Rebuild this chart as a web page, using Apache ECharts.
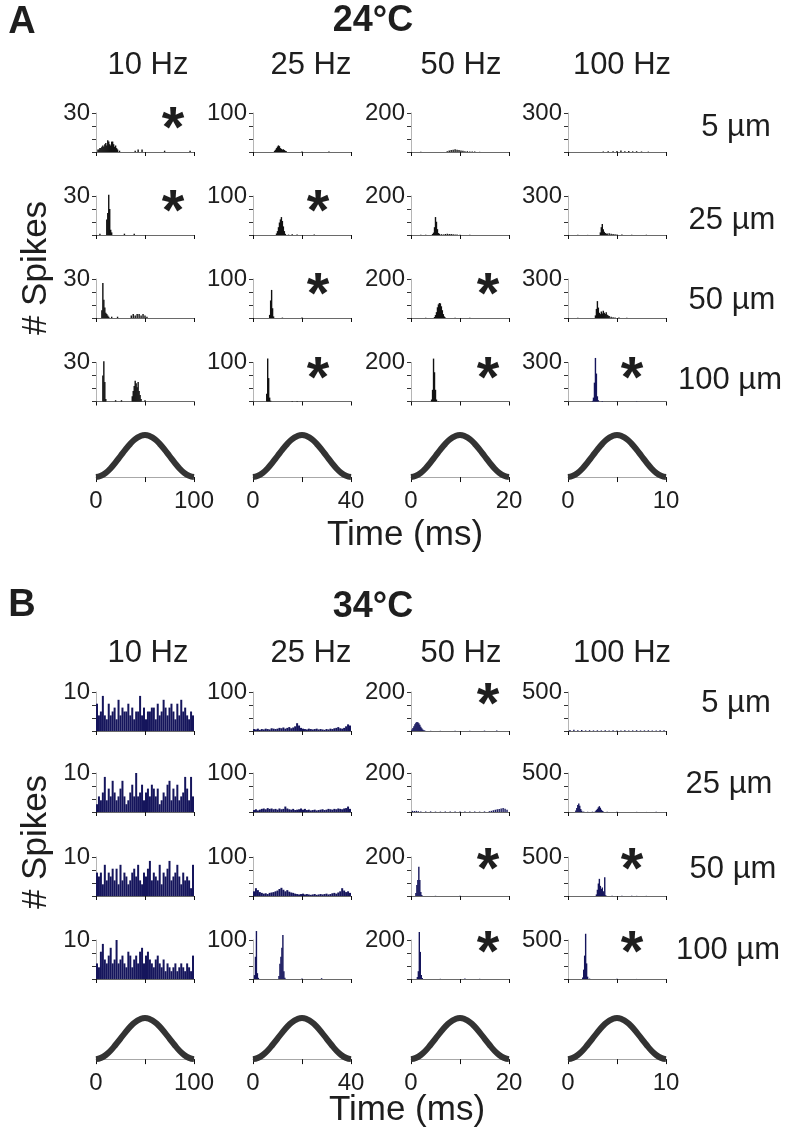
<!DOCTYPE html>
<html><head><meta charset="utf-8">
<script src="https://cdn.jsdelivr.net/npm/echarts@6/dist/echarts.min.js"></script>
<style>html,body{margin:0;padding:0;background:#fff}#c{width:789px;height:1141px}</style>
</head><body><div id="c"></div><script>
// ---------------- DATA ----------------
const freqLabels = ['10 Hz', '25 Hz', '50 Hz', '100 Hz'];
const ampLabels = ['5 µm', '25 µm', '50 µm', '100 µm'];
const periodsMs = [100, 40, 20, 10];
const timeTickLabels = ['100', '40', '20', '10'];
const yMaxA = [30, 100, 200, 300];
const yMaxB = [10, 100, 200, 500];

// stimulus waveform (one cycle), phase 0..1, normalized amplitude
const stimPhase = [0, 0.05, 0.1, 0.15, 0.2, 0.25, 0.3, 0.35, 0.4, 0.45, 0.5, 0.55, 0.6, 0.65, 0.7, 0.75, 0.8, 0.85, 0.9, 0.95, 1];
const stimValues = [0, 0.03, 0.1, 0.21, 0.35, 0.5, 0.65, 0.79, 0.9, 0.97, 1, 0.97, 0.9, 0.79, 0.65, 0.5, 0.35, 0.21, 0.1, 0.03, 0];

// Panel A (24°C) histograms: [time ms, # spikes]
const a10Hz5um = [[2,2],[3,2],[4,3],[5,3],[6,4],[7,5],[8,4],[9,6],[10,7],[11,5],[12,9],[13,8],[14,6],[15,5],[16,8],[17,8],[18,6],[19,4],[20,5],[21,3],[22,2],[24,1],[40,1],[43,2],[47,2],[70,1],[96,1]];
const a25Hz5um = [[8.8,3],[9.2,6],[9.6,10],[10,14],[10.4,17],[10.8,15],[11.2,10],[11.6,8],[12,6],[12.4,7],[12.8,5],[13.2,3],[13.6,2],[20,1],[31,1]];
const a50Hz5um = [[2,1],[7.4,4],[7.8,8],[8.2,10],[8.6,12],[9,14],[9.4,12],[9.8,10],[10.2,8],[10.6,6],[11,4],[11.5,4],[12,3],[12.5,2],[13,2],[14,1]];
const a100Hz5um = [[3.6,4],[4.1,6],[4.6,5],[5.0,8],[5.4,12],[5.8,6],[6.2,8],[6.6,5],[7.0,6],[7.5,4],[8.2,3]];

const a10Hz25um = [[4,1],[11,12],[12,17],[13,31],[14,20],[15,4],[16,2],[29,1],[39,1]];
const a25Hz25um = [[9.6,4],[10,10],[10.4,20],[10.8,32],[11.2,40],[11.6,46],[12,36],[12.4,22],[12.8,10],[13.2,3],[14.5,1],[16,2],[18,1],[25,1]];
const a50Hz25um = [[2,1],[3,1],[4.4,5],[4.6,12],[4.8,40],[5.0,92],[5.2,68],[5.4,30],[5.6,10],[5.8,6],[6.2,4],[6.6,3],[7,5],[7.4,6],[7.8,5],[8.2,5],[8.6,4],[9,3],[9.4,2],[10,1],[12,1]];
const a100Hz25um = [[1,2],[2,1],[3.3,20],[3.4,60],[3.5,85],[3.6,45],[3.7,25],[3.8,15],[3.9,10],[4.0,12],[4.2,14],[4.4,10],[4.6,8],[4.8,6],[5.0,4],[5.5,3],[6.5,2],[8,2]];

const a10Hz50um = [[6,6],[7,27],[8,14],[9,8],[10,4],[11,3],[12,2],[13,1],[16,1],[22,1],[36,2],[38,3],[40,2],[42,3],[44,3],[46,2],[48,3],[50,2],[52,1]];
const a25Hz50um = [[6.8,8],[7.2,45],[7.6,72],[8.0,25],[8.4,4],[12,1],[20,1]];
const a50Hz50um = [[3,1],[4.8,5],[5.0,15],[5.2,30],[5.4,55],[5.6,70],[5.8,77],[6.0,75],[6.2,60],[6.4,40],[6.6,20],[6.8,8],[7.0,3],[9,1],[12,1]];
const a100Hz50um = [[1,2],[2.8,20],[2.9,70],[3.0,130],[3.1,80],[3.2,40],[3.3,30],[3.4,50],[3.5,35],[3.6,55],[3.7,40],[3.8,30],[3.9,45],[4.0,25],[4.1,20],[4.2,15],[4.4,10],[4.6,6],[4.8,4],[5.2,3],[6,2]];

const a10Hz100um = [[7,20],[8,31],[9,15],[10,2],[20,1],[26,1],[37,4],[38,8],[39,12],[40,16],[41,14],[42,11],[43,15],[44,8],[45,5],[46,2],[50,1]];
const a25Hz100um = [[5.6,20],[6.0,110],[6.4,60],[6.8,10],[7.2,2],[16,1],[18,1]];
const a50Hz100um = [[4.2,10],[4.4,60],[4.6,220],[4.8,150],[5.0,60],[5.2,10],[5.6,2]];
const a100Hz100um = [[2.5,5],[2.6,30],[2.7,145],[2.8,335],[2.9,215],[3.0,40],[3.1,10],[3.5,3],[5,2],[7,2]];

// Panel B (34°C) histograms
// dense counts per consecutive bin (10 Hz: 2 ms bins, 25 Hz: 0.8 ms bins)
const b10HzBinMs = 2;
const b25HzBinMs = 0.8;
const b10Hz5um = [7,4,5,9,4,3,7,4,5,6,3,8,4,6,5,5,7,4,6,3,5,5,9,4,6,3,5,5,6,6,3,7,4,5,8,6,4,6,7,5,3,7,4,8,5,6,4,3,5,4];
const b10Hz25um = [2,4,3,5,9,3,6,4,8,5,3,4,6,8,4,2,3,5,7,4,10,4,5,7,3,5,6,4,7,6,4,6,2,3,5,4,7,8,3,6,4,7,3,4,5,9,6,3,9,4];
const b10Hz50um = [6,5,6,3,8,4,6,5,7,4,7,3,8,4,6,5,3,4,6,7,5,8,4,3,6,5,7,9,4,6,5,4,8,3,6,5,7,9,4,5,6,8,5,3,6,4,5,4,2,8];
const b10Hz100um = [4,3,7,9,5,4,6,8,4,5,10,4,5,6,4,3,7,6,3,5,6,4,7,8,4,6,7,5,4,3,5,6,4,3,5,2,4,3,2,3,4,2,3,4,3,2,4,3,2,6];
const b25Hz5um = [5,4,6,3,5,4,6,5,4,7,6,5,6,8,7,9,6,8,10,7,9,12,20,14,8,6,5,4,6,5,4,5,6,4,5,4,3,5,4,6,5,7,8,10,7,6,8,12,17,14];
const b25Hz25um = [5,7,4,6,8,9,7,10,8,9,7,8,6,9,7,8,14,9,7,6,8,5,6,7,9,6,8,5,6,4,5,6,4,5,6,7,5,6,8,7,6,8,7,9,8,7,9,10,14,8];
const b25Hz50um = [12,20,15,10,8,6,7,5,8,9,10,12,14,18,21,16,12,15,11,9,8,6,5,4,5,6,4,5,4,3,4,5,3,4,5,4,5,6,4,5,7,8,6,9,12,20,14,10,12,8];
// sparse [time ms, # spikes]
const b25Hz100um = [[0.6,10],[1.0,57],[1.4,123],[1.8,15],[2.2,3],[10.6,8],[11.0,39],[11.4,57],[11.8,80],[12.2,113],[12.6,20],[13.0,3],[20,1],[28,2]];
const b50Hz5um = [[0.2,8],[0.4,15],[0.6,25],[0.8,35],[1.0,42],[1.2,46],[1.4,45],[1.6,40],[1.8,32],[2.0,22],[2.2,14],[2.4,8],[2.6,4],[2.8,2],[4,1],[6,1],[9,1],[12,1],[15,2],[17.5,2]];
const b50Hz25um = [[0.3,6],[0.7,5],[1.1,6],[1.5,4],[2,3],[3,2],[4,3],[5,2],[6,2],[7,3],[8,2],[9,2],[10,3],[11,2],[12,2],[13,3],[14,2],[15,3],[16,4],[16.4,6],[16.8,9],[17.2,12],[17.6,14],[18,16],[18.4,18],[18.8,20],[19.2,17],[19.6,12]];
const b50Hz50um = [[1.0,15],[1.2,56],[1.4,82],[1.6,150],[1.8,82],[2.0,20],[2.2,5],[5,1],[10,1]];
const b50Hz100um = [[1.3,10],[1.5,40],[1.7,241],[1.9,139],[2.1,20],[2.3,5],[6,1],[11,2],[14,1]];
const b100Hz5um = [[0.2,12],[0.6,15],[1.0,10],[1.4,12],[1.8,8],[2.2,10],[2.6,8],[3.0,9],[3.4,7],[3.8,10],[4.2,8],[4.6,9],[5.0,7],[5.4,8],[5.8,9],[6.2,7],[6.6,8],[7.0,10],[7.4,7],[7.8,8],[8.2,9],[8.6,7],[9.0,8],[9.4,10],[9.8,9]];
const b100Hz25um = [[0.8,20],[0.9,50],[1.0,90],[1.1,110],[1.2,80],[1.3,40],[1.4,15],[1.6,5],[2.0,3],[2.5,4],[2.8,10],[2.9,25],[3.0,40],[3.1,60],[3.2,75],[3.3,55],[3.4,30],[3.5,15],[3.6,8],[4,3],[5,2],[6,1],[7,2],[8,1],[9,2]];
const b100Hz50um = [[2.9,20],[3.0,80],[3.1,160],[3.2,220],[3.3,130],[3.4,90],[3.5,110],[3.6,60],[3.7,20],[3.75,240],[3.85,10],[4.5,3],[5.5,2],[6.5,3],[7,2],[8,2]];
const b100Hz100um = [[1.5,20],[1.6,120],[1.7,300],[1.8,580],[1.9,200],[2.0,30],[2.2,5],[5,2],[7,1]];

// which plots carry an asterisk: [row, col]
const starsA = [[0,0],[1,0],[1,1],[2,1],[2,2],[3,1],[3,2],[3,3]];
const starsB = [[0,2],[2,2],[2,3],[3,2],[3,3]];

// ---------------- BUILD ----------------
function dense(counts, binMs) { return counts.map((c, i) => [(i + 0.5) * binMs, c]); }

const histA = [
  [a10Hz5um, a25Hz5um, a50Hz5um, a100Hz5um],
  [a10Hz25um, a25Hz25um, a50Hz25um, a100Hz25um],
  [a10Hz50um, a25Hz50um, a50Hz50um, a100Hz50um],
  [a10Hz100um, a25Hz100um, a50Hz100um, a100Hz100um]
];
const histB = [
  [dense(b10Hz5um, b10HzBinMs), dense(b25Hz5um, b25HzBinMs), b50Hz5um, b100Hz5um],
  [dense(b10Hz25um, b10HzBinMs), dense(b25Hz25um, b25HzBinMs), b50Hz25um, b100Hz25um],
  [dense(b10Hz50um, b10HzBinMs), dense(b25Hz50um, b25HzBinMs), b50Hz50um, b100Hz50um],
  [dense(b10Hz100um, b10HzBinMs), b25Hz100um, b50Hz100um, b100Hz100um]
];

const FONT = '"Liberation Sans", Arial, Helvetica, sans-serif';
const colLeft = [96, 253, 411, 568];
const plotW = 98, plotH = 39;
const baseA = [152, 235, 318, 401.5];
const baseB = [731, 812, 896, 979];
const sineA = {top: 435, h: 45};
const sineB = {top: 1018, h: 44};
const BLACK = '#111111', NAVY = '#15155c';
const TXT = '#1e1e1e';

const grids = [], xAxes = [], yAxes = [], series = [];

function addHist(data, left, baseline, period, ymax, color, bw) {
  const i = grids.length;
  grids.push({left: left, top: baseline - plotH, width: plotW, height: plotH});
  xAxes.push({gridIndex: i, type: 'value', min: 0, max: period, interval: period / 2,
    axisLine: {show: true, lineStyle: {color: '#6a6a6a', width: 1}},
    axisTick: {show: true, length: 4, lineStyle: {color: '#111', width: 1}},
    axisLabel: {show: false}, splitLine: {show: false}});
  yAxes.push({gridIndex: i, type: 'value', min: 0, max: ymax, interval: ymax / 3,
    axisLine: {show: true, lineStyle: {color: '#b5b5b5', width: 1}},
    axisTick: {show: true, length: 4, lineStyle: {color: '#333', width: 1}},
    axisLabel: {show: true, margin: 6, fontSize: 24, fontFamily: FONT, color: TXT,
      showMinLabel: true, showMaxLabel: true,
      formatter: v => (Math.abs(v - ymax) < 1e-6 ? String(ymax) : '')},
    splitLine: {show: false}});
  series.push({type: 'bar', xAxisIndex: i, yAxisIndex: i, data: data, barWidth: bw,
    clip: false, silent: true, itemStyle: {color: color}});
}

function addSine(left, top, h, c) {
  const i = grids.length;
  grids.push({left: left, top: top, width: plotW, height: h});
  xAxes.push({gridIndex: i, type: 'value', min: 0, max: 1, interval: 0.5,
    axisLine: {show: true, lineStyle: {color: '#a8a8a8', width: 1}},
    axisTick: {show: true, length: 5, lineStyle: {color: '#111', width: 1}},
    axisLabel: {show: true, margin: 9, fontSize: 24, fontFamily: FONT, color: TXT,
      showMinLabel: true, showMaxLabel: true,
      formatter: v => (v === 0 ? '0' : (v === 1 ? timeTickLabels[c] : ''))},
    splitLine: {show: false}});
  yAxes.push({gridIndex: i, type: 'value', min: -0.07, max: 1, show: false});
  series.push({type: 'line', xAxisIndex: i, yAxisIndex: i, smooth: true, symbol: 'none',
    clip: false, silent: true,
    data: stimPhase.map((p, k) => [p, stimValues[k]]),
    lineStyle: {color: '#333', width: 6}});
}

const bwA = [1.4, 1.4, 1.4, 1.4];
for (let r = 0; r < 4; r++) for (let c = 0; c < 4; c++) {
  const col = (r === 3 && c === 3) ? NAVY : BLACK;
  addHist(histA[r][c], colLeft[c], baseA[r], periodsMs[c], yMaxA[c], col, bwA[c]);
}
const bwB = [2, 2, 1.4, 1.4];
for (let r = 0; r < 4; r++) for (let c = 0; c < 4; c++) {
  const bw = (r === 3 && c === 1) ? 1.4 : bwB[c];
  addHist(histB[r][c], colLeft[c], baseB[r], periodsMs[c], yMaxB[c], NAVY, bw);
}
for (let c = 0; c < 4; c++) addSine(colLeft[c], sineA.top, sineA.h, c);
for (let c = 0; c < 4; c++) addSine(colLeft[c], sineB.top, sineB.h, c);

// ---------------- TEXT ----------------
const graphic = [];
function txt(x, y, text, size, bold, rot) {
  graphic.push({type: 'text', x: x, y: y, rotation: rot || 0, silent: true,
    style: {text: text, fill: TXT, font: (bold ? 'bold ' : '') + size + 'px ' + FONT,
      align: 'center', verticalAlign: 'middle', textAlign: 'center', textVerticalAlign: 'middle'}});
}
// panel letters and temperatures
txt(22, 23, 'A', 38, true);
txt(373, 21, '24°C', 36, true);
txt(22, 606, 'B', 38, true);
txt(373, 607, '34°C', 36, true);
// frequency headers
const headX = [148, 311, 461, 622];
headX.forEach((x, c) => { txt(x, 65, freqLabels[c], 31); txt(x, 653, freqLabels[c], 31); });
// amplitude labels
const ampXA = [736, 732, 732, 730], ampYA = [127, 220, 300, 380];
const ampXB = [736, 729, 733, 728], ampYB = [703, 784, 869, 950];
ampLabels.forEach((t, r) => { txt(ampXA[r], ampYA[r], t, 31); txt(ampXB[r], ampYB[r], t, 31); });
// axis titles
txt(36, 268, '# Spikes', 35, false, Math.PI / 2);
txt(36, 842, '# Spikes', 35, false, Math.PI / 2);
txt(405, 535, 'Time (ms)', 35);
txt(407, 1110, 'Time (ms)', 35);
// asterisks
const starDX = [77, 65, 77, 64];
starsA.forEach(([r, c]) => txt(colLeft[c] + starDX[c], baseA[r] - 36 + 15, '*', 58, true));
starsB.forEach(([r, c]) => txt(colLeft[c] + starDX[c], baseB[r] - 39 + 15, '*', 58, true));

const chart = echarts.init(document.getElementById('c'), null, {renderer: 'canvas'});
chart.setOption({
  animation: false,
  backgroundColor: '#fff',
  grid: grids, xAxis: xAxes, yAxis: yAxes, series: series, graphic: graphic
});
</script></body></html>
